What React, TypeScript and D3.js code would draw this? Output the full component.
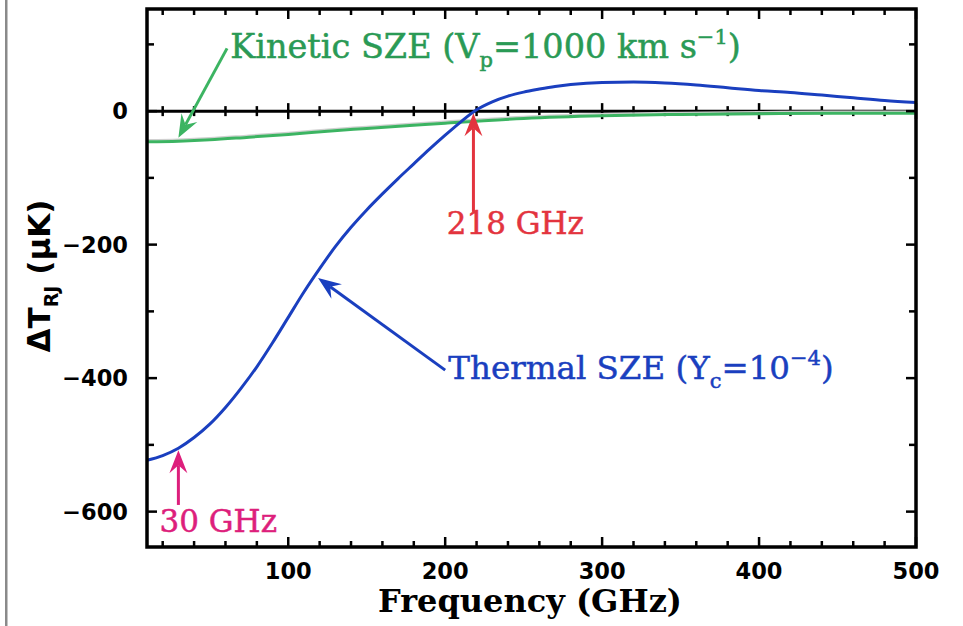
import React from 'react'
import * as d3 from 'd3'

// chart data
const thermalFreq = [10, 20, 30, 40, 50, 60, 70, 80, 90, 100, 110, 120, 130, 140, 150, 160, 170, 180, 190, 200, 210, 220, 230, 240, 250, 260, 270, 280, 300, 320, 340, 360, 380, 400, 420, 440, 460, 480, 500]
const thermalDT = [-523, -516, -505, -489, -469, -444, -415, -383, -347, -309, -271, -236, -203, -174, -148, -124, -101, -79, -57, -36, -16, 2, 14, 22.5, 28.5, 33, 37, 40, 43, 43.5, 42, 39, 35, 31, 28, 24, 20, 16, 13]

const kineticFreq = [10, 30, 50, 75, 100, 125, 150, 175, 200, 250, 300, 350, 400, 450, 500]
const kineticDT = [-46, -45, -43, -39, -35, -30, -26, -22, -18, -11, -7, -5, -4, -3, -3]

const xMajor = [100, 200, 300, 400, 500]
const xMinor = [20, 40, 60, 80, 120, 140, 160, 180, 220, 240, 260, 280, 320, 340, 360, 380, 420, 440, 460, 480]
const yMajor = [-600, -400, -200, 0]
const yMinor = [-500, -300, -100, 100]
const yLabels = ['\u2212600', '\u2212400', '\u2212200', '0']

const W = 963
const H = 626
const margin = { top: 9, right: 47, bottom: 79, left: 147 }

const BLUE = '#1a3fbf'
const GREEN = '#3cb462'
const GREEN_TXT = '#2a9a55'
const RED = '#e3343e'
const MAGENTA = '#dd1f7c'

const Arrow = ({ x1, y1, x2, y2, color }) => {
  const a = Math.atan2(y2 - y1, x2 - x1)
  const ux = Math.cos(a), uy = Math.sin(a)
  const nx = -uy, ny = ux
  const L = 23, w = 9, notch = 15
  const pts = [
    [x2, y2],
    [x2 - L * ux + w * nx, y2 - L * uy + w * ny],
    [x2 - notch * ux, y2 - notch * uy],
    [x2 - L * ux - w * nx, y2 - L * uy - w * ny],
  ]
  return (
    <g>
      <line x1={x1} y1={y1} x2={x2 - notch * ux} y2={y2 - notch * uy} stroke={color} strokeWidth={3} />
      <polygon points={pts.map(p => p.join(',')).join(' ')} fill={color} />
    </g>
  )
}

export default function App() {
  const x = d3.scaleLinear().domain([10, 500]).range([margin.left, W - margin.right])
  const y = d3.scaleLinear().domain([-653, 153]).range([H - margin.bottom, margin.top])

  const line = d3.line<[number, number]>()
    .x(d => x(d[0]))
    .y(d => y(d[1]))
    .curve(d3.curveMonotoneX)

  const thermal = line(thermalFreq.map((f, i) => [f, thermalDT[i]]))
  const kinetic = line(kineticFreq.map((f, i) => [f, kineticDT[i]]))

  const x0 = x.range()[0], x1 = x.range()[1]
  const yTop = y.range()[1], yBot = y.range()[0]
  const yZero = y(0)

  const serif = '"DejaVu Serif", serif'
  const sansB = '"DejaVu Sans", sans-serif'

  return (
    <svg width={W} height={H} style={{ position: 'absolute', left: 0, top: 0, background: '#fff' }}
      fontFamily={sansB}>
      <rect x={5} y={0} width={2.5} height={H} fill="#8a8a8a" />

      {/* zero line with crossing ticks */}
      <line x1={x0} x2={x1} y1={yZero} y2={yZero} stroke="#000" strokeWidth={3} />
      {xMajor.map(f => (
        <line key={'zM' + f} x1={x(f)} x2={x(f)} y1={yZero - 8} y2={yZero + 8} stroke="#000" strokeWidth={2.5} />
      ))}
      {xMinor.map(f => (
        <line key={'zm' + f} x1={x(f)} x2={x(f)} y1={yZero - 5} y2={yZero + 5} stroke="#000" strokeWidth={2.5} />
      ))}

      {/* curves */}
      <path d={kinetic} fill="none" stroke="#d0d0d0" strokeWidth={1.5} transform="translate(0,-2)" />
      <path d={kinetic} fill="none" stroke={GREEN} strokeWidth={3} />
      <path d={thermal} fill="none" stroke={BLUE} strokeWidth={3} />

      {/* frame ticks */}
      {xMajor.map(f => (
        <g key={'xM' + f}>
          <line x1={x(f)} x2={x(f)} y1={yTop} y2={yTop + 10} stroke="#000" strokeWidth={2.5} />
          <line x1={x(f)} x2={x(f)} y1={yBot} y2={yBot - 10} stroke="#000" strokeWidth={2.5} />
          <text x={x(f)} y={579} textAnchor="middle" fontSize={22.5} fontWeight="bold">{f}</text>
        </g>
      ))}
      {xMinor.map(f => (
        <g key={'xm' + f}>
          <line x1={x(f)} x2={x(f)} y1={yTop} y2={yTop + 6} stroke="#000" strokeWidth={2.5} />
          <line x1={x(f)} x2={x(f)} y1={yBot} y2={yBot - 6} stroke="#000" strokeWidth={2.5} />
        </g>
      ))}
      {yMajor.map((v, i) => (
        <g key={'yM' + v}>
          <line x1={x0} x2={x0 + 10} y1={y(v)} y2={y(v)} stroke="#000" strokeWidth={2.5} />
          <line x1={x1} x2={x1 - 10} y1={y(v)} y2={y(v)} stroke="#000" strokeWidth={2.5} />
          <text x={128} y={y(v)} dy="0.36em" textAnchor="end" fontSize={22.5} fontWeight="bold">{yLabels[i]}</text>
        </g>
      ))}
      {yMinor.map(v => (
        <g key={'ym' + v}>
          <line x1={x0} x2={x0 + 7} y1={y(v)} y2={y(v)} stroke="#000" strokeWidth={2.5} />
          <line x1={x1} x2={x1 - 7} y1={y(v)} y2={y(v)} stroke="#000" strokeWidth={2.5} />
        </g>
      ))}
      <rect x={x0} y={yTop} width={x1 - x0} height={yBot - yTop} fill="none" stroke="#000" strokeWidth={3.5} />

      {/* axis titles */}
      <text x={530} y={612} textAnchor="middle" fontFamily={serif} fontWeight="bold" fontSize={32}>Frequency (GHz)</text>
      <text transform="translate(50,276) rotate(-90)" textAnchor="middle" fontWeight="bold" fontSize={31}>
        <tspan>ΔT</tspan>
        <tspan fontSize={19} dy={8}>RJ</tspan>
        <tspan dy={-8}> (μK)</tspan>
      </text>

      {/* annotations */}
      <g fontFamily={serif} strokeWidth={0.5}>
        <Arrow x1={x(61)} y1={y(94)} x2={x(30)} y2={y(-40)} color={GREEN} />
        <text x={x(63)} y={y(79)} fontSize={33.5} fill={GREEN_TXT} stroke={GREEN_TXT}>
          <tspan>Kinetic SZE (V</tspan>
          <tspan fontSize={21} dy={9}>p</tspan>
          <tspan dy={-9}>=1000 km s</tspan>
          <tspan fontSize={21} dy={-14}>−1</tspan>
          <tspan dy={14}>)</tspan>
        </text>

        <Arrow x1={x(218)} y1={y(-151)} x2={x(218)} y2={y(-3)} color={RED} />
        <text x={x(201)} y={y(-184)} fontSize={31} fill={RED} stroke={RED}>218 GHz</text>

        <Arrow x1={x(200)} y1={y(-388)} x2={x(119)} y2={y(-250)} color={BLUE} />
        <text x={x(202)} y={y(-401)} fontSize={32.5} fill={BLUE} stroke={BLUE}>
          <tspan>Thermal SZE (Y</tspan>
          <tspan fontSize={21} dy={9}>c</tspan>
          <tspan dy={-9}>=10</tspan>
          <tspan fontSize={21} dy={-14}>−4</tspan>
          <tspan dy={14}>)</tspan>
        </text>

        <Arrow x1={x(30)} y1={y(-590)} x2={x(30)} y2={y(-508)} color={MAGENTA} />
        <text x={x(18)} y={y(-631)} fontSize={31} fill={MAGENTA} stroke={MAGENTA}>30 GHz</text>
      </g>
    </svg>
  )
}
